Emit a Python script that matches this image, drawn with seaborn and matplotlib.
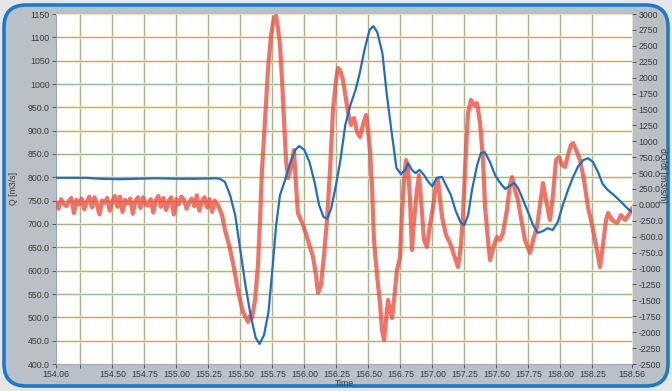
import seaborn as sns
import matplotlib.pyplot as plt
import pandas as pd
from matplotlib.patches import FancyBboxPatch

# Q (blue, left axis)
time_q = [154.06, 154.30, 154.40, 154.55, 154.70, 154.85, 155.00, 155.15, 155.30, 155.34,
          155.38, 155.42, 155.46, 155.50, 155.54, 155.58, 155.62, 155.65, 155.685, 155.72,
          155.75, 155.78, 155.81, 155.85, 155.89, 155.93, 155.96, 156.00, 156.04, 156.08,
          156.115, 156.15, 156.18, 156.21, 156.24, 156.28, 156.32, 156.36, 156.40, 156.435,
          156.47, 156.51, 156.54, 156.57, 156.61, 156.645, 156.685, 156.72, 156.755, 156.79,
          156.81, 156.84, 156.87, 156.90, 156.935, 156.97, 157.00, 157.035, 157.075, 157.105,
          157.145, 157.18, 157.22, 157.25, 157.28, 157.31, 157.35, 157.38, 157.41, 157.45,
          157.49, 157.53, 157.57, 157.60, 157.64, 157.67, 157.71, 157.75, 157.79, 157.825,
          157.865, 157.90, 157.94, 157.98, 158.02, 158.06, 158.10, 158.14, 158.18, 158.215,
          158.255, 158.295, 158.33, 158.37, 158.41, 158.45, 158.49, 158.53, 158.56]
flow_q = [799, 799, 797, 796, 797, 798, 797, 797, 798, 797,
          790, 762, 719, 644, 569, 505, 456, 443, 462, 511,
          601, 698, 762, 794, 831, 859, 867, 859, 833, 790,
          741, 715, 711, 734, 773, 833, 912, 955, 987, 1026,
          1073, 1116, 1124, 1111, 1066, 976, 891, 820, 807, 816,
          831, 816, 809, 816, 805, 790, 781, 799, 801, 784,
          762, 730, 704, 698, 719, 773, 826, 852, 854, 833,
          805, 788, 775, 781, 788, 777, 751, 724, 696, 681,
          685, 691, 687, 704, 741, 773, 801, 824, 837, 841,
          833, 811, 786, 773, 764, 754, 743, 732, 726]

# dQ/dt (red, right axis)
time_d = [154.06, 154.08, 154.10, 154.12, 154.14, 154.16, 154.18, 154.20, 154.22, 154.24,
          154.26, 154.28, 154.30, 154.32, 154.34, 154.36, 154.38, 154.40, 154.42, 154.44,
          154.46, 154.48, 154.50, 154.52, 154.54, 154.56, 154.58, 154.60, 154.62, 154.64,
          154.66, 154.68, 154.70, 154.72, 154.74, 154.76, 154.78, 154.80, 154.82, 154.84,
          154.86, 154.88, 154.90, 154.92, 154.94, 154.96, 154.98, 155.00, 155.02, 155.04,
          155.06, 155.08, 155.10, 155.12, 155.14, 155.16, 155.18, 155.20, 155.22, 155.24,
          155.26, 155.28, 155.30, 155.31,
          155.326, 155.357, 155.380, 155.412, 155.443, 155.474, 155.498, 155.521, 155.544, 155.560,
          155.576, 155.591, 155.615, 155.638, 155.654, 155.669, 155.693, 155.716, 155.740, 155.763,
          155.779, 155.794, 155.810, 155.826, 155.841, 155.857, 155.873, 155.896, 155.919, 155.935,
          155.950, 155.990, 156.021, 156.068, 156.091, 156.107, 156.130, 156.154, 156.177, 156.201,
          156.224, 156.248, 156.263, 156.279, 156.302, 156.326, 156.341, 156.365, 156.388, 156.412,
          156.435, 156.458, 156.482, 156.498, 156.513, 156.529, 156.544, 156.568, 156.591, 156.607,
          156.623, 156.638, 156.654, 156.669, 156.685, 156.701, 156.724, 156.748, 156.763, 156.779,
          156.794, 156.810, 156.826, 156.841, 156.857, 156.880, 156.896, 156.912, 156.935, 156.958,
          156.982, 157.005, 157.029, 157.044, 157.076, 157.107, 157.138, 157.169, 157.201, 157.224,
          157.240, 157.263, 157.279, 157.302, 157.326, 157.349, 157.373, 157.396, 157.412, 157.435,
          157.451, 157.482, 157.505, 157.529, 157.552, 157.583, 157.607, 157.623, 157.646, 157.669,
          157.693, 157.724, 157.763, 157.787, 157.818, 157.841, 157.865, 157.888, 157.919, 157.943,
          157.966, 157.990, 158.013, 158.037, 158.060, 158.083, 158.099, 158.123, 158.154, 158.185,
          158.216, 158.248, 158.279, 158.310, 158.333, 158.357, 158.373, 158.404, 158.443, 158.474,
          158.505, 158.544, 158.560]
rate_d = [40, -60, 90, 20, -20, 60, 110, -130, 80, 10,
          100, -70, 50, 130, -40, 120, 0, -150, 70, 30,
          110, -90, 60, 140, -30, 130, -110, 80, 20, 100,
          -140, 60, 120, -50, 120, 10, -10, 90, -120, 70,
          140, -30, 110, -80, 60, 120, -150, 90, 10, 130,
          80, -60, 40, 100, -20, 150, -90, 60, 120, -40,
          90, -110, 70, 30,
          -1, -159, -394, -630, -913, -1259, -1494, -1683, -1777, -1840,
          -1746, -1777, -1494, -944, -237, 549, 1334, 2120, 2670, 2937,
          2969, 2780, 2513, 1963, 1334, 706, 423, 580, 863, 313,
          -127, -316, -504, -819, -1101, -1384, -1259, -787, -237, 549,
          1491, 1963, 2151, 2120, 1963, 1649, 1460, 1256, 1366, 1146,
          1067, 1256, 1413, 1177, 863, 281, -551, -1101, -1541, -1966,
          -2123, -1809, -1494, -1651, -1777, -1494, -1023, -819, -127, 391,
          706, 549, 77, -709, -237, 234, 470, 77, -551, -661,
          -316, -33, 313, 391, -190, -473, -599, -787, -976, -630,
          -127, 863, 1444, 1649, 1570, 1601, 1287, 706, -33, -551,
          -866, -630, -504, -551, -441, -80, 313, 439, 234, 77,
          -206, -551, -756, -551, -347, -1, 344, 77, -237, 156,
          706, 753, 627, 596, 784, 941, 973, 863, 706, 391,
          -33, -316, -630, -976, -630, -237, -127, -237, -284, -159,
          -237, -127, -49]

x_ticks = [154.06, 154.25, 154.50, 154.75, 155.00, 155.25, 155.50, 155.75, 156.00, 156.25,
           156.50, 156.75, 157.00, 157.25, 157.50, 157.75, 158.00, 158.25, 158.56]
x_labels = ['154.06', '', '154.50', '154.75', '155.00', '155.25', '155.50', '155.75', '156.00',
            '156.25', '156.50', '156.75', '157.00', '157.25', '157.50', '157.75', '158.00',
            '158.25', '158.56']
q_ticks = [400, 450, 500, 550, 600, 650, 700, 750, 800, 850, 900, 950, 1000, 1050, 1100, 1150]
q_labels = ['400.0', '450.0', '500.0', '550.0', '600.0', '650.0', '700.0', '750.0', '800.0',
            '850.0', '900.0', '950.0', '1000', '1050', '1100', '1150']
d_ticks = [3000, 2750, 2500, 2250, 2000, 1750, 1500, 1250, 1000, 750, 500, 250, 0,
           -250, -500, -750, -1000, -1250, -1500, -1750, -2000, -2250, -2500]
d_labels = ['3000', '2750', '2500', '2250', '2000', '1750', '1500', '1250', '1000', '750.0',
            '500.0', '250.0', '0.000', '-250.0', '-500.0', '-750.0', '-1000', '-1250', '-1500',
            '-1750', '-2000', '-2250', '-2500']

df_q = pd.DataFrame({'Time': time_q, 'Q': flow_q})
df_d = pd.DataFrame({'Time': time_d, 'dQdt': rate_d})

sns.set_style("white")
plt.rcParams['font.family'] = ['Liberation Sans', 'DejaVu Sans']

W, H = 672, 391
fig = plt.figure(figsize=(W / 100, H / 100), dpi=100)
fig.patch.set_facecolor('#e4e6e8')

# marco azul redondeado con panel gris
marco = FancyBboxPatch((4 / 100, 5 / 100), 664 / 100, 381 / 100,
                       boxstyle="round,pad=0,rounding_size=0.22",
                       transform=fig.dpi_scale_trans, facecolor='#b9c0c6',
                       edgecolor='#1d79c9', linewidth=2.6, zorder=0)
fig.add_artist(marco)

pos = [56 / W, 27 / H, 576 / W, 350 / H]
txt = '#3a3a3a'
fs = 6.3

# ejes base: grilla, eje x y eje Q
base = fig.add_axes(pos, zorder=1)
base.set_facecolor('white')
base.set_xlim(154.06, 158.56)
base.set_ylim(400, 1150)
for xv in x_ticks[1:-1]:
    base.axvline(xv, color='#f6ebc6', lw=1.8, zorder=0)
    base.axvline(xv, color='#9cb89a', lw=0.8, zorder=0)
for yv in q_ticks[1:-1]:
    base.axhline(yv, color='#f6ebc6', lw=1.8, zorder=0)
    base.axhline(yv, color='#9cb89a', lw=0.8, zorder=0)
base.set_xticks(x_ticks)
base.set_xticklabels(x_labels)
base.set_yticks(q_ticks)
base.set_yticklabels(q_labels)
base.tick_params(axis='both', labelsize=fs, labelcolor=txt, length=3, width=0.7,
                 color='#555555', pad=1.5, direction='out', left=True, bottom=True)
for s in base.spines.values():
    s.set_linewidth(0.7)
base.spines['left'].set_color('#7fa8c8')
base.spines['bottom'].set_color('#9aaab8')
base.spines['top'].set_color('#f6dcc4')
base.spines['right'].set_color('#f6e2c0')
base.set_xlabel('')
base.set_ylabel('')

# dQ/dt en rojo, eje derecho
axr = fig.add_axes(pos, zorder=2, sharex=base)
axr.patch.set_visible(False)
sns.lineplot(data=df_d, x='Time', y='dQdt', ax=axr, color='#ef4b3a', lw=3.0, alpha=0.78)
axr.set_ylim(-2500, 3000)
axr.yaxis.tick_right()
axr.set_yticks(d_ticks)
axr.set_yticklabels(d_labels)
axr.tick_params(axis='y', labelsize=fs, labelcolor=txt, length=3, width=0.7,
                color='#555555', pad=1.5, right=True)
axr.tick_params(axis='x', bottom=False, labelbottom=False)
for s in axr.spines.values():
    s.set_visible(False)
axr.set_xlabel('')
axr.set_ylabel('')

# Q en azul, encima
axb = fig.add_axes(pos, zorder=3, sharex=base)
axb.patch.set_visible(False)
sns.lineplot(data=df_q, x='Time', y='Q', ax=axb, color='#1f6ec2', lw=1.6)
axb.set_ylim(400, 1150)
axb.axis('off')

fig.text(13 / W, 1 - 188 / H, 'Q [m3/s]', rotation=90, fontsize=fs, color=txt,
         ha='center', va='center')
fig.text(663 / W, 1 - 175 / H, 'dQ/dt [m3/s/h]', rotation=270, fontsize=fs, color=txt,
         ha='center', va='center')
fig.text(344 / W, 1 - 384 / H, 'Time', fontsize=fs, color=txt, ha='center', va='center')

fig.savefig('out.png', dpi=100, facecolor=fig.get_facecolor())
